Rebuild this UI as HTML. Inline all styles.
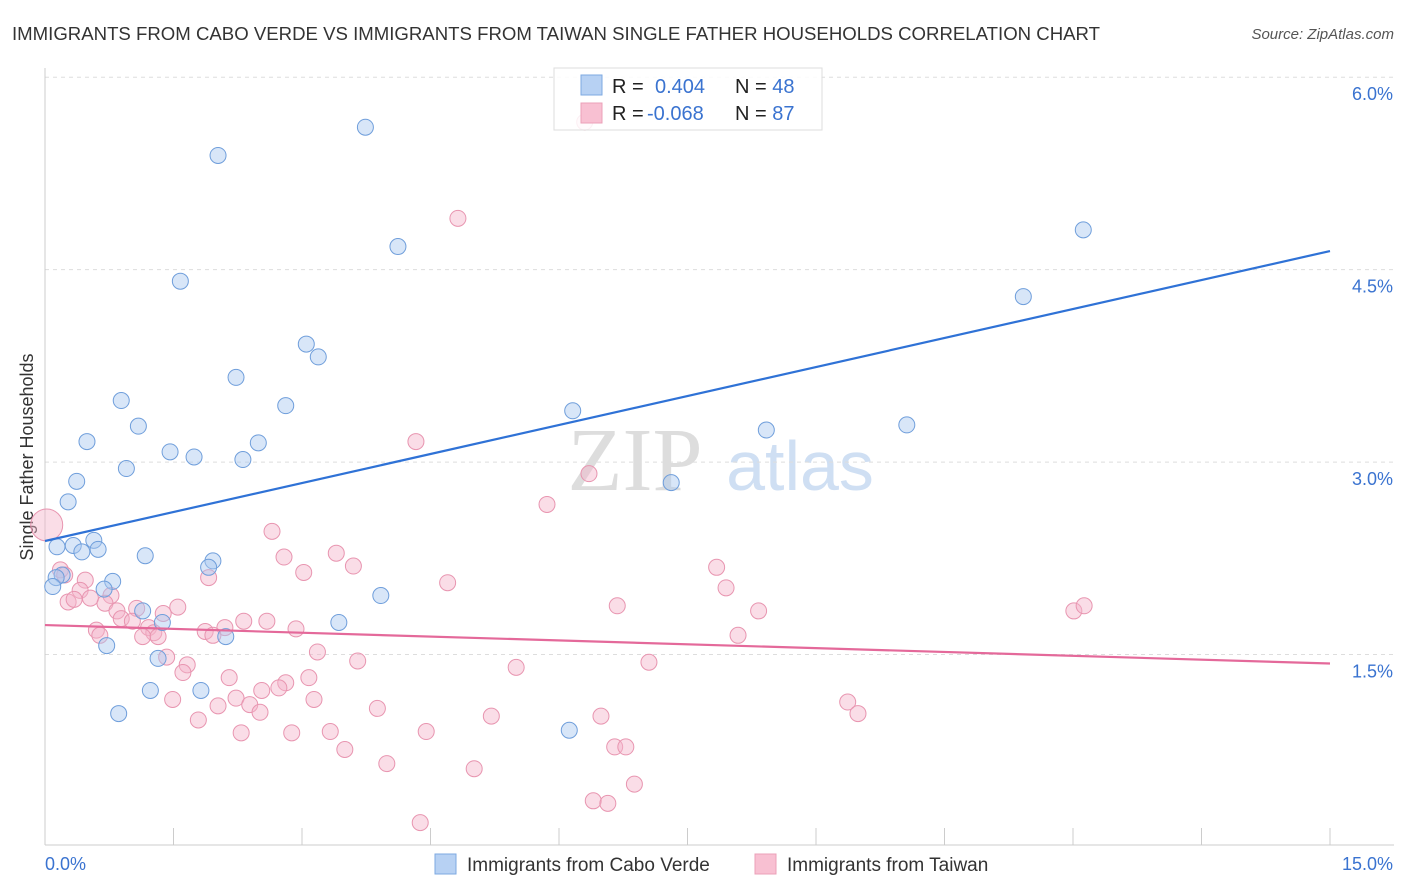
<!DOCTYPE html>
<html><head><meta charset="utf-8"><style>
body{margin:0;background:#fff;font-family:"Liberation Sans",sans-serif;}
svg{display:block}
</style></head><body>
<svg id="chart" width="1406" height="892">
<text x="12" y="40" font-size="18" fill="#333" textLength="1088" lengthAdjust="spacingAndGlyphs">IMMIGRANTS FROM CABO VERDE VS IMMIGRANTS FROM TAIWAN SINGLE FATHER HOUSEHOLDS CORRELATION CHART</text>
<text x="1394" y="39" font-size="15" fill="#555" font-style="italic" text-anchor="end">Source: ZipAtlas.com</text>
<text x="33" y="457" font-size="18" fill="#333" text-anchor="middle" transform="rotate(-90 33 457)">Single Father Households</text>
<text x="635" y="490" font-size="90" fill="#ddd" font-family="Liberation Serif,serif" text-anchor="middle">ZIP</text>
<text x="800" y="490" font-size="70" fill="#cfdff3" text-anchor="middle">atlas</text>
<g id="grid"></g><g id="pts"></g><g id="lines"></g>
<g>
<rect x="554" y="68" width="268" height="62" fill="#fff" fill-opacity="0.85" stroke="#ddd"/>
<rect x="581" y="75" width="21" height="20" fill="#b7d1f3" stroke="#7ea9e2"/>
<rect x="581" y="103" width="21" height="20" fill="#f8c0d2" stroke="#eba0b8"/>
<text x="612" y="93" font-size="20" fill="#222">R = <tspan fill="#3a73d0" x="655">0.404</tspan><tspan x="735" fill="#222">N = </tspan><tspan fill="#3a73d0">48</tspan></text>
<text x="612" y="120" font-size="20" fill="#222">R = <tspan fill="#3a73d0" x="647">-0.068</tspan><tspan x="735" fill="#222">N = </tspan><tspan fill="#3a73d0">87</tspan></text>
</g>
<g>
<rect x="435" y="854" width="21" height="20" fill="#b7d1f3" stroke="#7ea9e2"/>
<text x="467" y="871" font-size="19" fill="#333">Immigrants from Cabo Verde</text>
<rect x="755" y="854" width="21" height="20" fill="#f8c0d2" stroke="#eba0b8"/>
<text x="787" y="871" font-size="19" fill="#333">Immigrants from Taiwan</text>
</g>
</svg>
<script>
const xTicks=[0,15];
const yTicks=[1.5,3.0,4.5,6.0];
const blueX=[3.74,2.02,4.12,1.58,12.12,11.42,3.05,3.19,2.23,0.89,2.81,6.16,1.09,0.49,2.49,10.06,8.42,1.46,1.74,2.31,0.95,0.37,7.31,0.27,0.14,0.57,0.62,0.33,0.43,1.17,1.96,1.91,0.20,0.13,0.79,0.69,0.09,3.92,1.14,1.37,3.43,2.11,0.72,1.32,1.23,1.82,0.86,6.12];
const blueY=[5.61,5.39,4.68,4.41,4.81,4.29,3.92,3.82,3.66,3.48,3.44,3.40,3.28,3.16,3.15,3.29,3.25,3.08,3.04,3.02,2.95,2.85,2.84,2.69,2.34,2.39,2.32,2.35,2.30,2.27,2.23,2.18,2.12,2.10,2.07,2.01,2.03,1.96,1.84,1.75,1.75,1.64,1.57,1.47,1.22,1.22,1.04,0.91];
const pinkX=[6.30,4.82,4.33,6.35,5.86,2.65,3.40,2.79,3.60,7.84,3.02,1.91,4.70,0.02,0.18,0.23,0.47,0.41,0.77,0.27,0.34,0.70,0.53,6.68,7.95,8.33,12.01,12.13,0.84,1.07,1.55,1.38,0.89,1.02,2.32,2.59,1.21,0.60,2.10,2.93,1.87,0.64,1.27,1.14,1.32,1.96,8.09,3.18,3.65,5.50,7.05,1.42,1.66,1.61,2.15,2.81,2.53,2.73,3.08,1.49,2.23,3.14,2.39,2.02,2.51,3.88,5.21,6.49,9.37,9.49,1.79,4.45,2.29,2.88,3.33,3.50,6.65,6.78,3.99,5.01,6.88,6.40,6.57,4.38];
const pinkY=[5.65,4.90,3.16,2.91,2.67,2.46,2.29,2.26,2.19,2.18,2.14,2.10,2.06,2.51,2.16,2.12,2.08,2.00,1.96,1.91,1.93,1.90,1.94,1.88,2.02,1.84,1.84,1.88,1.84,1.86,1.87,1.82,1.78,1.76,1.76,1.76,1.71,1.69,1.71,1.70,1.68,1.65,1.67,1.64,1.64,1.65,1.65,1.52,1.45,1.40,1.44,1.48,1.42,1.36,1.32,1.28,1.22,1.24,1.32,1.15,1.16,1.15,1.11,1.10,1.05,1.08,1.02,1.02,1.13,1.04,0.99,0.90,0.89,0.89,0.90,0.76,0.78,0.78,0.65,0.61,0.49,0.36,0.34,0.19];
const blueTrend=[2.385,4.645];
const pinkTrend=[1.73,1.43];
const NS='http://www.w3.org/2000/svg';
const sx=v=>45+v*(1285/15), sy=v=>847-v*128.3;
function mk(tag,attrs,parent){const e=document.createElementNS(NS,tag);for(const k in attrs)e.setAttribute(k,attrs[k]);parent.appendChild(e);return e;}
const grid=document.getElementById('grid');
yTicks.forEach(t=>{
 const l=mk('line',{x1:45,x2:1394,y1:sy(t),y2:sy(t),stroke:'#ddd','stroke-dasharray':'4,4'},grid);
 
 
 const tx=mk('text',{x:1393,y:sy(t)+23,'font-size':18,fill:'#3a73d0','text-anchor':'end'},grid);
 tx.textContent=t.toFixed(1)+'%';
 
 
});
let ax=mk('line',{x1:45,x2:1394,y1:845,y2:845,stroke:'#ccc'},grid);


let ay=mk('line',{x1:45,x2:45,y1:68,y2:845,stroke:'#ccc'},grid);


for(let i=0;i<=10;i++){const v=i*1.5;const t=mk('line',{x1:sx(v),x2:sx(v),y1:828,y2:845,stroke:'#ccc'},grid);
 
 }
xTicks.forEach((t,i)=>{const tx=mk('text',{x:i?1393:45,y:870,'font-size':18,fill:'#3a73d0','text-anchor':i?'end':'start'},grid);
 tx.textContent=t.toFixed(1)+'%';
 
 });
const pts=document.getElementById('pts');
pinkX.forEach((x,i)=>{const c=mk('circle',{cx:sx(x),cy:sy(pinkY[i]),r:i==13?16:8,fill:'#f5b3c9','fill-opacity':0.45,stroke:'#e895b0','stroke-width':1},pts);
 
 });
blueX.forEach((x,i)=>{const c=mk('circle',{cx:sx(x),cy:sy(blueY[i]),r:8,fill:'#a9c7ef','fill-opacity':0.45,stroke:'#6f9edb','stroke-width':1},pts);
 
 });
const lines=document.getElementById('lines');
let bl=mk('line',{x1:sx(0),x2:sx(15),y1:sy(blueTrend[0]),y2:sy(blueTrend[1]),stroke:'#2f72d6','stroke-width':2.2},lines);


let pl=mk('line',{x1:sx(0),x2:sx(15),y1:sy(pinkTrend[0]),y2:sy(pinkTrend[1]),stroke:'#e4699a','stroke-width':2.2},lines);


</script>
</body></html>
